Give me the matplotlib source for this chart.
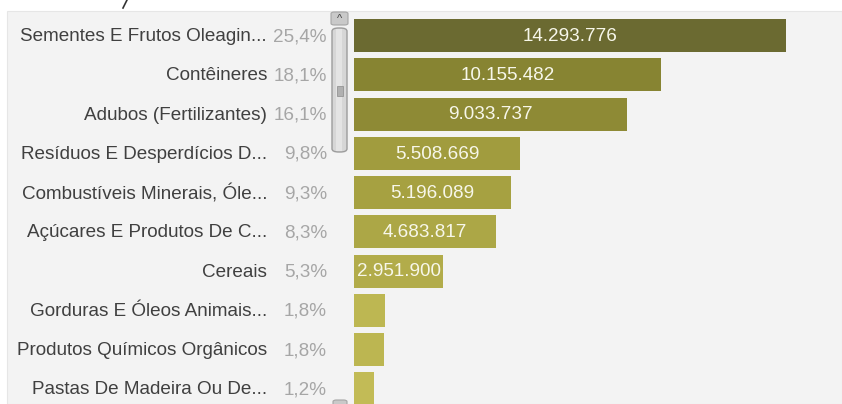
import numpy as np
import matplotlib.pyplot as plt
from matplotlib.patches import Rectangle, FancyBboxPatch
from matplotlib.lines import Line2D

plt.rcParams['font.family'] = ['Liberation Sans', 'DejaVu Sans']

# exported tonnage by product group
categorias = [
    'Sementes E Frutos Oleagin...',
    'Contêineres',
    'Adubos (Fertilizantes)',
    'Resíduos E Desperdícios D...',
    'Combustíveis Minerais, Óle...',
    'Açúcares E Produtos De C...',
    'Cereais',
    'Gorduras E Óleos Animais...',
    'Produtos Químicos Orgânicos',
    'Pastas De Madeira Ou De...',
]
percentuais = ['25,4%', '18,1%', '16,1%', '9,8%', '9,3%', '8,3%', '5,3%', '1,8%', '1,8%', '1,2%']
valores = [14293776, 10155482, 9033737, 5508669, 5196089, 4683817, 2951900, 1020000, 990000, 670000]
mostrar_rotulo = [True, True, True, True, True, True, True, False, False, False]
cores = ['#6b6a31', '#878432', '#8e8a35', '#a19c3e', '#a6a141', '#aca746',
         '#b2ac4a', '#bdb752', '#bcb651', '#c2bb56']

FS = 13.6
W, H = 842, 404
fig = plt.figure(figsize=(W / 100, H / 100), dpi=100)
fig.patch.set_facecolor('white')

# grey panel behind the whole list
fig.patches.append(Rectangle((7 / W, 0), 1 - 7 / W, 1 - 11 / H, transform=fig.transFigure,
                             facecolor='#f3f3f3', edgecolor='#e6e6e6', lw=0.8, zorder=-5))

# bars axes
ax = fig.add_axes([354 / W, 0, (W - 354) / W, 1])
ax.set_facecolor('none')
pitch = 39.25
escala = 432 / valores[0]          # px per ton
ax.set_xlim(0, (W - 354) / escala)
ax.set_ylim(-35.5 / pitch + H / pitch, -35.5 / pitch)
y = np.arange(len(valores))
ax.barh(y, valores, height=33 / pitch, color=cores, zorder=2)
for yi, v, ok in zip(y, valores, mostrar_rotulo):
    if ok:
        txt = f'{v:,}'.replace(',', '.')
        ax.text(v / 2, yi + 0.02, txt, ha='center', va='center', color='#f7f7ea', fontsize=FS, zorder=3)
ax.axis('off')

# label axes on the left
lab = fig.add_axes([0, 0, 354 / W, 1])
lab.set_xlim(0, 354)
lab.set_ylim(ax.get_ylim())
lab.axis('off')
for yi, c, p in zip(y, categorias, percentuais):
    lab.text(267, yi + 0.03, c, ha='right', va='center', color='#404040', fontsize=FS)
    lab.text(327, yi + 0.03, p, ha='right', va='center', color='#a6a6a6', fontsize=FS)

# scrollbar
tf = fig.transFigure
def px(x, yy):
    return x / W, 1 - yy / H

fig.patches.append(FancyBboxPatch(px(331, 25), 17 / W, 13 / H, boxstyle='round,pad=0,rounding_size=0.004',
                                  transform=tf, facecolor='#c9c9c9', edgecolor='#a5a5a5', lw=0.8, zorder=5))
fig.text(339.5 / W, 1 - 19 / H, '^', ha='center', va='center', fontsize=8, color='#444444', zorder=6)
fig.patches.append(FancyBboxPatch(px(332, 152), 15 / W, 124 / H, boxstyle='round,pad=0,rounding_size=0.008',
                                  transform=tf, facecolor='#d6d6d6', edgecolor='#9c9c9c', lw=1.0, zorder=5))
fig.patches.append(Rectangle(px(336, 151), 6 / W, 122 / H, transform=tf,
                             facecolor='#e4e4e4', edgecolor='none', zorder=5))
fig.patches.append(Rectangle(px(337, 96), 6 / W, 10 / H, transform=tf,
                             facecolor='#b0b0b0', edgecolor='#8a8a8a', lw=0.5, zorder=6))
fig.patches.append(FancyBboxPatch(px(333, 406), 14 / W, 6 / H, boxstyle='round,pad=0,rounding_size=0.004',
                                  transform=tf, facecolor='#c9c9c9', edgecolor='#a5a5a5', lw=0.8, zorder=5))

# stray stroke above the panel
x0, y0 = px(127, 0)
x1, y1 = px(123, 8)
fig.lines.append(Line2D([x0, x1], [y0, y1], transform=tf, color='#333333', lw=1.2))

fig.savefig('out.png', dpi=100)
